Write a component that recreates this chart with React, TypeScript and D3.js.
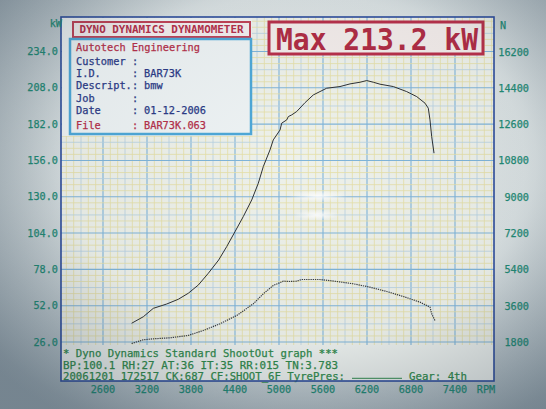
import React from "react";
import * as d3 from "d3";

// ---- data read from the dyno sheet ----
const rpmPower = [2990, 3150, 3286, 3469, 3627, 3763, 3900, 4036, 4177, 4287, 4400, 4513, 4628, 4718, 4786, 4877, 4922, 5014, 5037, 5105, 5127, 5173, 5241, 5355, 5468, 5650, 5832, 5968, 6105, 6196, 6286, 6377, 6559, 6741, 6878, 6991, 7036, 7059, 7082, 7114];
const powerKw = [39.4, 44.1, 50.1, 53.2, 56.6, 60.9, 66.8, 75.2, 84.7, 94.3, 105.0, 115.8, 127.7, 139.7, 151.6, 163.5, 170.7, 177.8, 182.7, 185.0, 187.4, 188.6, 191.0, 197.4, 202.9, 207.7, 208.9, 210.8, 212.0, 213.2, 212.0, 210.6, 208.9, 205.3, 201.7, 197.0, 193.4, 185.0, 173.1, 161.2];
const rpmTractive = [2990, 3150, 3286, 3514, 3759, 3968, 4195, 4423, 4650, 4786, 4922, 5059, 5150, 5241, 5309, 5559, 5787, 6013, 6241, 6468, 6695, 6923, 7059, 7082, 7127];
const tractiveN = [1750, 1934, 1983, 2033, 2147, 2395, 2727, 3139, 3719, 4215, 4627, 4840, 4825, 4840, 4924, 4924, 4825, 4711, 4542, 4329, 4081, 3799, 3551, 3223, 2891];

const rpmTicks = [2600, 3200, 3800, 4400, 5000, 5600, 6200, 6800, 7400];
const kwTicks = [26, 52, 78, 104, 130, 156, 182, 208, 234];
const nTicks = [1800, 3600, 5400, 7200, 9000, 10800, 12600, 14400, 16200];

const infoLabels = ["Customer", "I.D.", "Descript.", "Job", "Date", "File"];
const infoValues = ["", "BAR73K", "bmw", "", "01-12-2006", "BAR73K.063"];
const footerLines = [
  "* Dyno Dynamics Standard ShootOut graph ***",
  "BP:100.1 RH:27 AT:36 IT:35  RR:015 TN:3.783",
  "20061201 172517 CK:687 CF:SHOOT_6F TyrePres:",
];
const footerGear = "Gear: 4th";

const W = 546, H = 409;
const FL = 61, FR = 494, FT = 17, FB = 381, GB = 345;
const MONO = "'DejaVu Sans Mono', 'Liberation Mono', monospace";
const TEAL = "#1f8a74";
const GREEN = "#2f8a4a";
const RED = "#b5304a";
const NAVY = "#2b3a86";

export default function App() {
  const x = d3.scaleLinear().domain([2600, 7400]).range([103, 455]);
  const yKw = d3.scaleLinear().domain([26, 234]).range([342, 51.5]);
  const yN = d3.scaleLinear().domain([1800, 16200]).range([342.5, 52]);

  const minorX = d3.range(2000, 8001, 100);
  const minorY = d3.range(0, 61).map((i) => (i * 26) / 6);

  const powerLine = d3.line<number>().x((_, i) => x(rpmPower[i])).y((d) => yKw(d));
  const tractLine = d3.line<number>().x((_, i) => x(rpmTractive[i])).y((d) => yN(d));

  const rowY = [60.7, 72.5, 85, 97.7, 110, 125];
  const thick = { stroke: "currentColor", strokeWidth: 0.25 } as const;

  return (
    <svg width={W} height={H} style={{ position: "absolute", left: 0, top: 0 }} fontFamily={MONO}>
      <defs>
        <radialGradient id="bg" cx="55%" cy="40%" r="75%">
          <stop offset="0%" stopColor="#eef1ee" />
          <stop offset="55%" stopColor="#dae1e2" />
          <stop offset="100%" stopColor="#9aa9b2" />
        </radialGradient>
        <radialGradient id="vig" cx="55%" cy="40%" r="72%">
          <stop offset="0%" stopColor="#203040" stopOpacity="0" />
          <stop offset="60%" stopColor="#203040" stopOpacity="0.05" />
          <stop offset="100%" stopColor="#203040" stopOpacity="0.3" />
        </radialGradient>
        <radialGradient id="glare" cx="50%" cy="50%" r="50%">
          <stop offset="0%" stopColor="#ffffff" stopOpacity="0.9" />
          <stop offset="100%" stopColor="#ffffff" stopOpacity="0" />
        </radialGradient>
        <clipPath id="gridClip">
          <rect x={FL} y={FT} width={FR - FL} height={GB - FT} />
        </clipPath>
      </defs>

      <rect x={0} y={0} width={W} height={H} fill="url(#bg)" />

      {/* plot paper */}
      <rect x={FL} y={FT} width={FR - FL} height={FB - FT} fill="#eef1ea" />
      <g clipPath="url(#gridClip)">
        {minorX.map((r, i) => {
          const major = (r - 2000) % 600 === 0;
          const half = !major && (r - 2000) % 300 === 0;
          return (
            <line key={"vx" + i} x1={x(r)} x2={x(r)} y1={FT} y2={GB}
              stroke={major ? "#80b5da" : half ? "#b8d2e2" : "#e6dfa8"} strokeWidth={major ? 1.1 : 0.8} />
          );
        })}
        {minorY.map((k, i) => {
          const major = i % 6 === 0;
          const half = i % 6 === 3;
          return (
            <line key={"hy" + i} x1={FL} x2={FR} y1={yKw(k)} y2={yKw(k)}
              stroke={major ? "#80b5da" : half ? "#b8d2e2" : "#e6dfa8"} strokeWidth={major ? 1.1 : 0.8} />
          );
        })}
        <ellipse cx={318} cy={196} rx={30} ry={6} fill="url(#glare)" />
        <ellipse cx={317} cy={215} rx={24} ry={5} fill="url(#glare)" />
      </g>

      {/* curves */}
      <path d={powerLine(powerKw) || ""} fill="none" stroke="#2e3134" strokeWidth={1} />
      <path d={tractLine(tractiveN) || ""} fill="none" stroke="#3a3d40" strokeWidth={1.2} strokeDasharray="1.3 0.9" />

      {/* footer area */}
      <rect x={FL + 1} y={GB} width={FR - FL - 2} height={FB - GB} fill="#edf1ee" />
      {footerLines.map((t, i) => (
        <text key={"f" + i} x={63} y={[353, 364.5, 375.5][i]} dominantBaseline="central" fontSize={10.6}
          fill={GREEN} color={GREEN} {...thick} textLength={i === 2 ? 282 : 275} lengthAdjust="spacingAndGlyphs">{t}</text>
      ))}
      <line x1={352} x2={402} y1={378.3} y2={378.3} stroke={GREEN} strokeWidth={1} />
      <text x={409} y={375.5} dominantBaseline="central" fontSize={10.6} fill={GREEN} color={GREEN} {...thick}
        textLength={58} lengthAdjust="spacingAndGlyphs">{footerGear}</text>

      {/* frame */}
      <rect x={FL} y={FT} width={FR - FL} height={FB - FT} fill="none" stroke="#2c4c9c" strokeWidth={1.6} />

      {/* info panel */}
      <rect x={FL + 1} y={FT + 1} width={252 - FL - 1} height={136 - FT - 1} fill="#eff3f3" />
      <rect x={73} y={22} width={177} height={15} fill="#f3eeee" stroke="#c04256" strokeWidth={2} />
      <text x={161.5} y={29.8} textAnchor="middle" dominantBaseline="central" fontSize={10.9} fontWeight="bold"
        fill={RED} textLength={164} lengthAdjust="spacingAndGlyphs">DYNO DYNAMICS DYNAMOMETER</text>
      <rect x={70} y={39} width={181} height={95} fill="#eef3f4" stroke="#4ea8d8" strokeWidth={2.5} />
      <text x={76} y={46.7} dominantBaseline="central" fontSize={10.3} fill={RED} color={RED} {...thick}
        textLength={124} lengthAdjust="spacingAndGlyphs">Autotech Engineering</text>
      {infoLabels.map((l, i) => {
        const c = i === infoLabels.length - 1 ? RED : NAVY;
        return (
          <g key={"info" + i} fill={c} color={c}>
            <text x={76} y={rowY[i]} dominantBaseline="central" fontSize={10.3} {...thick}>{l}</text>
            <text x={132} y={rowY[i]} dominantBaseline="central" fontSize={10.3} {...thick}>:</text>
            <text x={144} y={rowY[i]} dominantBaseline="central" fontSize={10.3} {...thick}>{infoValues[i]}</text>
          </g>
        );
      })}

      {/* max box */}
      <rect x={269} y={22} width={214} height={32} fill="#f3ecea" stroke="#b8304a" strokeWidth={3} />
      <text x={377} y={38.5} textAnchor="middle" dominantBaseline="central" fontSize={31} fontWeight="bold"
        fill="#b02c44" textLength={202} lengthAdjust="spacingAndGlyphs">Max 213.2 kW</text>

      {/* axes labels */}
      <g fill={TEAL} color={TEAL} fontSize={10.2}>
        <text x={62} y={23} textAnchor="end" dominantBaseline="central" {...thick}>kW</text>
        {kwTicks.map((k) => (
          <text key={"k" + k} x={58} y={yKw(k)} textAnchor="end" dominantBaseline="central" {...thick}>
            {k.toFixed(1)}
          </text>
        ))}
        <text x={503} y={25} textAnchor="middle" dominantBaseline="central" {...thick}>N</text>
        {nTicks.map((n) => (
          <text key={"n" + n} x={529} y={yN(n)} textAnchor="end" dominantBaseline="central" {...thick}>
            {n}
          </text>
        ))}
        {rpmTicks.map((r) => (
          <text key={"r" + r} x={x(r)} y={389} textAnchor="middle" dominantBaseline="central" {...thick}>
            {r}
          </text>
        ))}
        <text x={486} y={389} textAnchor="middle" dominantBaseline="central" {...thick}>RPM</text>
      </g>

      {/* photo vignette */}
      <rect x={0} y={0} width={W} height={H} fill="url(#vig)" pointerEvents="none" />
    </svg>
  );
}
